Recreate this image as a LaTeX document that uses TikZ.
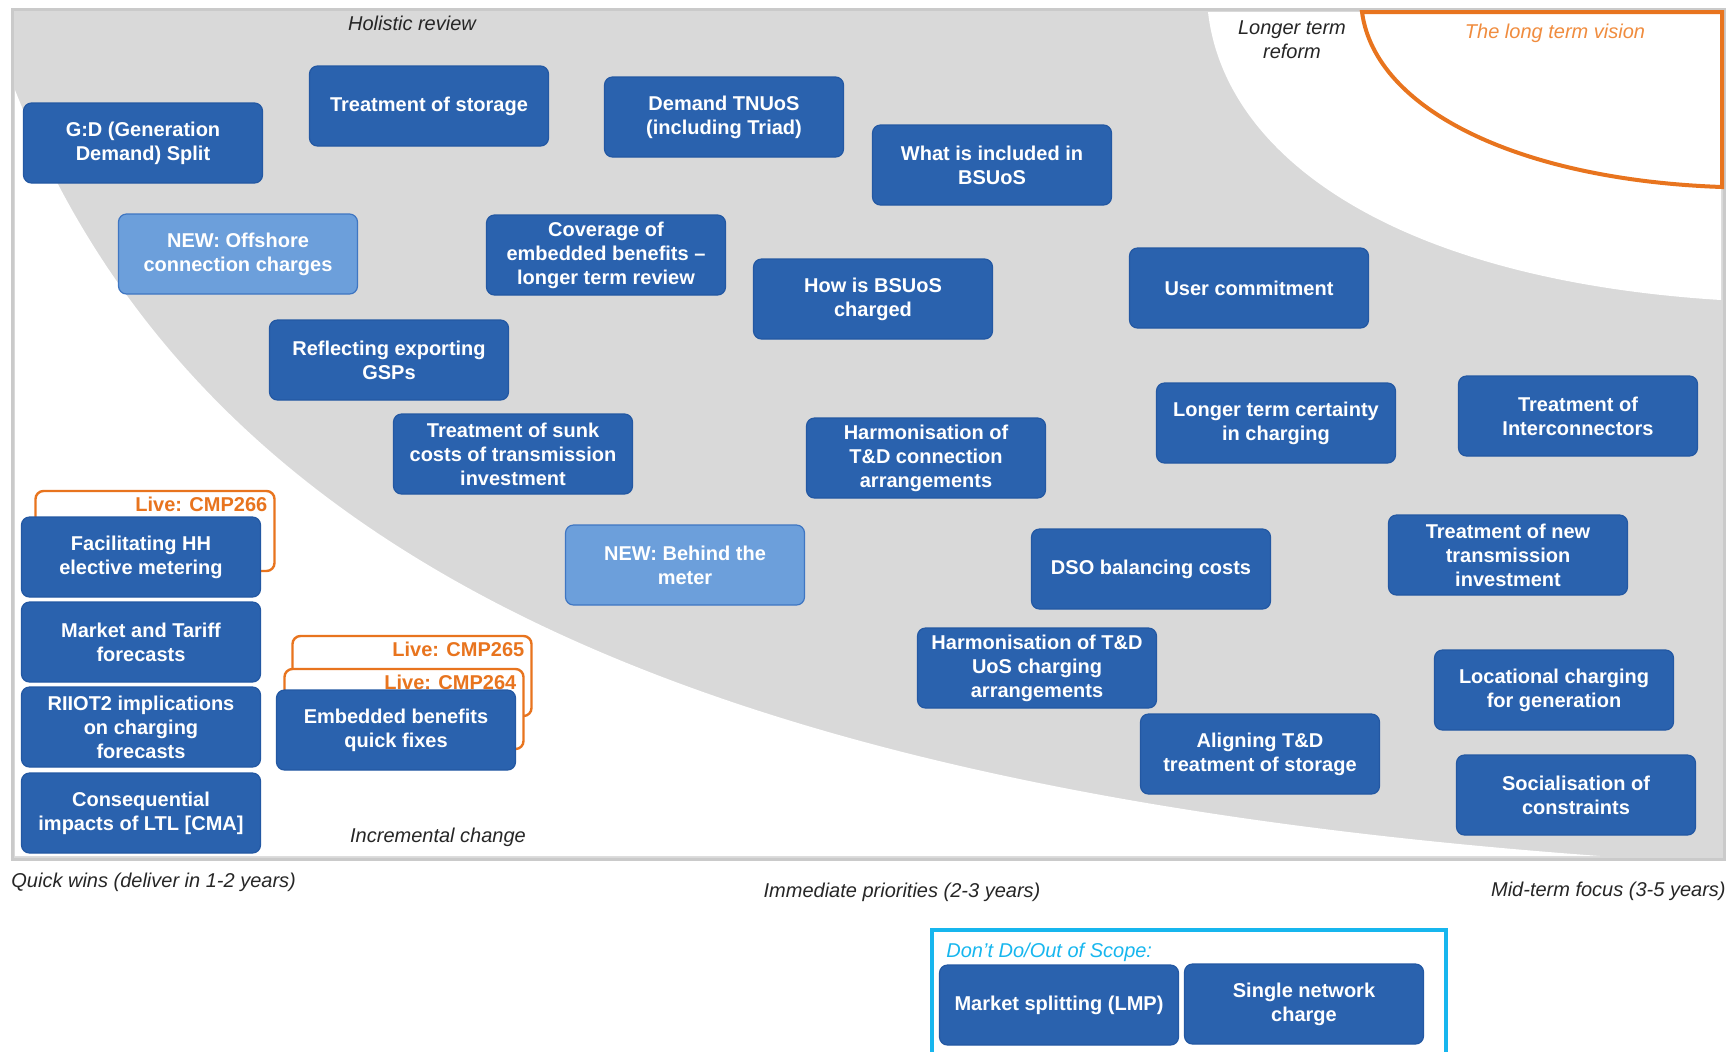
\documentclass[tikz,border=0pt]{standalone}
\usepackage{fontspec}
\setmainfont{Liberation Sans}
\definecolor{boxblue}{HTML}{2A62AE}
\definecolor{boxline}{HTML}{2358A3}
\definecolor{newblue}{HTML}{6C9FDB}
\definecolor{newline}{HTML}{3F76C2}
\definecolor{panelgrey}{HTML}{D9D9D9}
\definecolor{paneledge}{HTML}{CACACA}
\definecolor{liveorange}{HTML}{E8741E}
\definecolor{visionorange}{HTML}{F08C3E}
\definecolor{scopecyan}{HTML}{17B6EE}

\begin{document}
\begin{tikzpicture}[x=0.5pt,y=-0.5pt]
\tikzstyle{every node}+=[inner sep=0pt]
\tikzstyle{topic}=[rectangle, rounded corners=4pt, fill=boxblue, draw=boxline, line width=0.6pt, minimum width=119.5pt, minimum height=40pt, text=white, font=\fontsize{10}{12}\selectfont\bfseries, align=center]
\tikzstyle{newtopic}=[topic, fill=newblue, draw=newline]
\tikzstyle{live}=[rectangle, rounded corners=4pt, fill=white, draw=liveorange, line width=1.2pt, minimum width=119.5pt, minimum height=40pt]
\tikzstyle{livetag}=[anchor=east, xshift=-4pt, yshift=-7.5pt, text=liveorange, font=\fontsize{10}{12}\selectfont\bfseries]
\tikzstyle{caption}=[font=\fontsize{10}{12}\selectfont\itshape, text=black!85, align=center]
\useasboundingbox (0,0) rectangle (1733,1051);
% background bands
\fill [panelgrey] (11,8) rectangle (1725,860);
\draw [paneledge, line width=1.5pt] (12,9) rectangle (1724,859);
\fill [white] (15,90) .. controls (200,560) and (700,790) .. (1600,856) -- (15,856) -- cycle;
\fill [white] (1208,12) .. controls (1225,160) and (1400,280) .. (1721,300) -- (1721,12) -- cycle;
\draw [liveorange, line width=2pt] (1362,12) -- (1722,12) -- (1722,187) .. controls (1520,180) and (1375,110) .. (1362,12) -- cycle;
\node [caption] (holistic) at (412,23) {Holistic review};
\node [caption] (longer) at (1292,40) {Longer term\\reform};
\node [caption, text=visionorange] (vision) at (1555,33) {The long term vision};
\node [caption] (incremental) at (438,837) {Incremental change};
% topics
\node [topic] (gdsplit) at (143,143) {G:D (Generation\\Demand) Split};
\node [topic] (storage) at (429,106) {Treatment of storage};
\node [topic] (tnuos) at (724,117) {Demand TNUoS\\(including Triad)};
\node [topic] (bsuosin) at (992,165) {What is included in\\BSUoS};
\node [newtopic] (offshore) at (238,254) {NEW: Offshore\\connection charges};
\node [topic] (coverage) at (606,255) {Coverage of\\embedded benefits --\\longer term review};
\node [topic] (bsuoshow) at (873,299) {How is BSUoS\\charged};
\node [topic] (commit) at (1249,288) {User commitment};
\node [topic] (gsps) at (389,360) {Reflecting exporting\\GSPs};
\node [topic] (sunk) at (513,454) {Treatment of sunk\\costs of transmission\\investment};
\node [topic] (tdconn) at (926,458) {Harmonisation of\\T\&D connection\\arrangements};
\node [topic] (certainty) at (1276,423) {Longer term certainty\\in charging};
\node [topic] (intercon) at (1578,416) {Treatment of\\Interconnectors};
\node [live] (live266) at (155,531) {};
\node [livetag] (tag266) at (live266.north east) {Live: CMP266};
\node [topic] (hhmeter) at (141,557) {Facilitating HH\\elective metering};
\node [newtopic] (btm) at (685,565) {NEW: Behind the\\meter};
\node [topic] (dso) at (1151,569) {DSO balancing costs};
\node [topic] (newtrans) at (1508,555) {Treatment of new\\transmission\\investment};
\node [topic] (tariff) at (141,642) {Market and Tariff\\forecasts};
\node [topic] (tduos) at (1037,668) {Harmonisation of T\&D\\UoS charging\\arrangements};
\node [topic] (locational) at (1554,690) {Locational charging\\for generation};
\node [topic] (riio) at (141,727) {RIIOT2 implications\\on charging\\forecasts};
\node [live] (live265) at (412,676) {};
\node [livetag] (tag265) at (live265.north east) {Live: CMP265};
\node [live] (live264) at (404,709) {};
\node [livetag] (tag264) at (live264.north east) {Live: CMP264};
\node [topic] (quickfix) at (396,730) {Embedded benefits\\quick fixes};
\node [topic] (aligning) at (1260,754) {Aligning T\&D\\treatment of storage};
\node [topic] (social) at (1576,795) {Socialisation of\\constraints};
\node [topic] (ltl) at (141,813) {Consequential\\impacts of LTL [CMA]};
% time axis
\node [caption, anchor=west] (quick) at (11,882) {Quick wins (deliver in 1-2 years)};
\node [caption] (immediate) at (902,892) {Immediate priorities (2-3 years)};
\node [caption, anchor=east] (midterm) at (1726,891) {Mid-term focus (3-5 years)};
% out of scope
\draw [scopecyan, line width=2pt] (932,930) rectangle (1446,1056);
\node [caption, anchor=west, text=scopecyan] (scope) at (946,952) {Don't Do/Out of Scope:};
\node [topic] (lmp) at (1059,1005) {Market splitting (LMP)};
\node [topic] (single) at (1304,1004) {Single network\\charge};
\end{tikzpicture}
\end{document}
